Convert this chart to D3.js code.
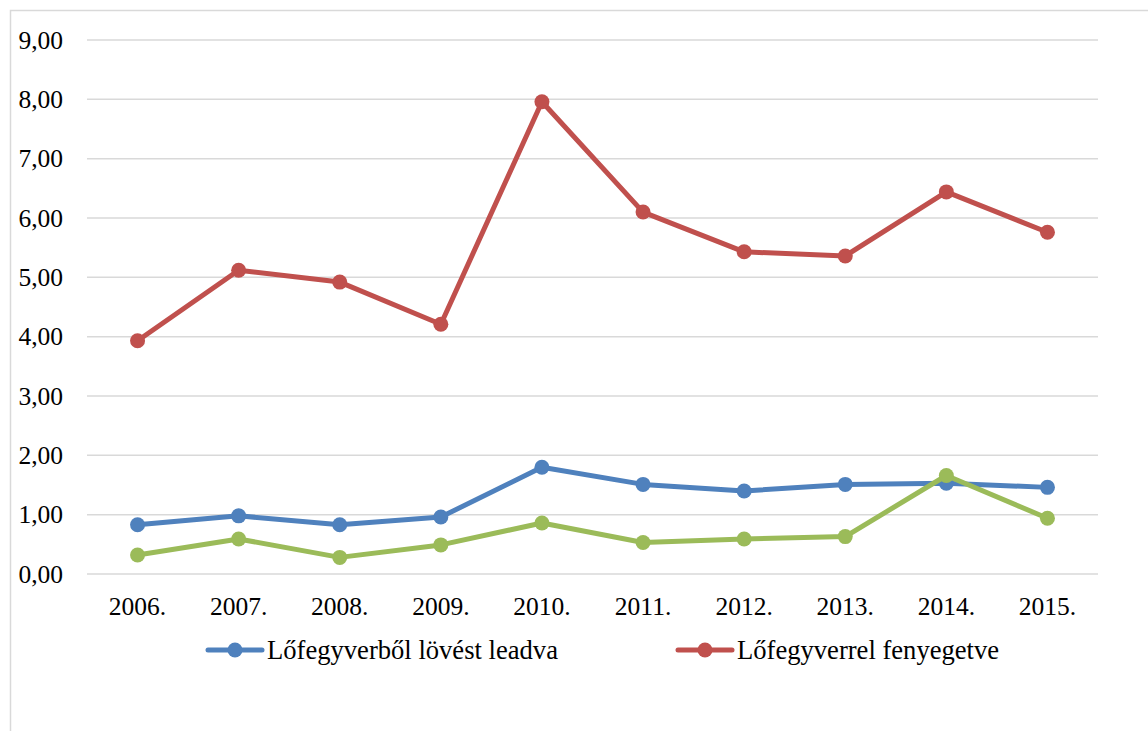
<!DOCTYPE html>
<html>
<head>
<meta charset="utf-8">
<script src="https://cdn.jsdelivr.net/npm/d3@7"></script>
<style>
  body { margin: 0; background: #fff; }
</style>
</head>
<body>
<svg id="chart" width="1148" height="731"></svg>
<script>
const years = ["2006.", "2007.", "2008.", "2009.", "2010.", "2011.", "2012.", "2013.", "2014.", "2015."];
const lovest = [0.83, 0.98, 0.83, 0.96, 1.80, 1.51, 1.40, 1.51, 1.53, 1.46];
const fenyeget = [3.93, 5.12, 4.92, 4.21, 7.96, 6.10, 5.43, 5.36, 6.44, 5.76];
const harmadik = [0.32, 0.59, 0.28, 0.49, 0.86, 0.53, 0.59, 0.63, 1.66, 0.94];
const yTicks = [0, 1, 2, 3, 4, 5, 6, 7, 8, 9];

const serif = "'Liberation Serif'";

const svg = d3.select("#chart");

// outer frame (chart area border, cut by picture edge)
svg.append("rect")
    .attr("x", 10.5).attr("y", 10.5)
    .attr("width", 1300).attr("height", 900)
    .attr("fill", "none")
    .attr("stroke", "#d9d9d9")
    .attr("stroke-width", 1.5);

const x = d3.scaleBand().domain(years).range([87, 1098]);
const y = d3.scaleLinear().domain([0, 9]).range([574, 40]);

// gridlines
svg.append("g")
    .selectAll("line")
    .data(yTicks)
    .join("line")
        .attr("x1", 87).attr("x2", 1098)
        .attr("y1", d => y(d)).attr("y2", d => y(d))
        .style("stroke", "#d9d9d9")
        .style("stroke-width", 1.5)

// y labels
svg.append("g")
    .selectAll("text")
    .data(yTicks)
    .join("text")
        .attr("x", 63)
        .attr("y", d => y(d))
        .attr("dy", "0.34em")
        .attr("text-anchor", "end")
        .style("font-family", serif)
        .style("font-size", "25.5px")
        .text(d => d.toFixed(2).replace(".", ","))

// x labels
svg.append("g")
    .selectAll("text")
    .data(years)
    .join("text")
        .attr("x", d => x(d) + x.bandwidth() / 2)
        .attr("y", 615)
        .attr("text-anchor", "middle")
        .style("font-family", serif)
        .style("font-size", "25.5px")
        .text(d => d)

const series = [
  {name: "Lőfegyverből lövést leadva", values: lovest, color: "#4f81bd"},
  {name: "Lőfegyverrel fenyegetve", values: fenyeget, color: "#c0504d"},
  {name: "", values: harmadik, color: "#9bbb59"}
];

const line = d3.line()
    .x((d, i) => x(years[i]) + x.bandwidth() / 2)
    .y(d => y(d));

series.forEach(s => {
  const g = svg.append("g");
  g.append("path")
      .attr("d", line(s.values))
      .style("fill", "none")
      .style("stroke", s.color)
      .style("stroke-width", 5)
      .style("stroke-linejoin", "round")
  g.selectAll("circle")
      .data(s.values)
      .join("circle")
          .attr("cx", (d, i) => x(years[i]) + x.bandwidth() / 2)
          .attr("cy", d => y(d))
          .attr("r", 7.5)
          .style("fill", s.color)
});

// legend (two entries visible)
const legendPos = [208, 678];
series.slice(0, 2).forEach((s, i) => {
  const lg = svg.append("g").attr("transform", "translate(" + legendPos[i] + ",650)");
  lg.append("line")
      .attr("x1", 0).attr("x2", 54)
      .style("stroke", s.color)
      .style("stroke-width", 5)
      .style("stroke-linecap", "round")
  lg.append("circle")
      .attr("cx", 27).attr("r", 7.5)
      .style("fill", s.color)
  lg.append("text")
      .attr("x", 59).attr("y", 9)
      .style("font-family", serif)
      .style("font-size", "26.6px")
      .text(s.name)
});
</script>
</body>
</html>
